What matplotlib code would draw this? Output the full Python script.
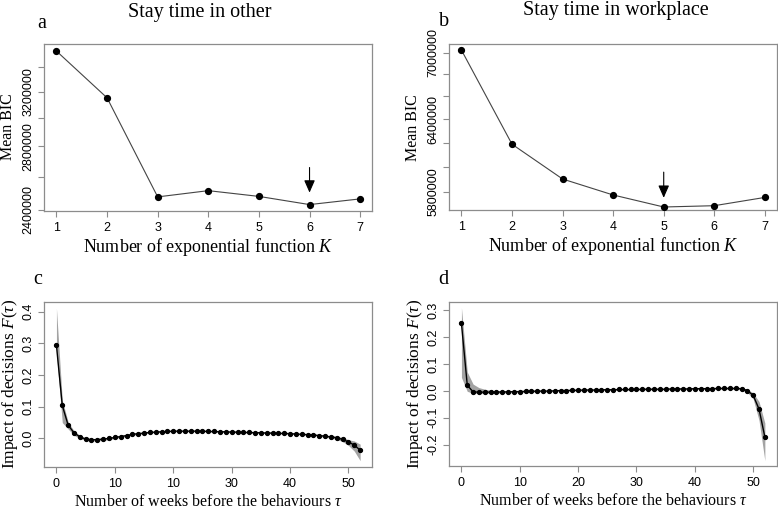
import matplotlib
matplotlib.use("Agg")
import matplotlib.pyplot as plt
from matplotlib.ticker import FixedLocator, NullLocator, FixedFormatter
import numpy as np

plt.rcParams['mathtext.fontset'] = 'custom'
plt.rcParams['mathtext.rm'] = 'Liberation Serif'
plt.rcParams['mathtext.it'] = 'Liberation Serif:italic'

# ---------------- data ----------------
K = [1, 2, 3, 4, 5, 6, 7]
bic_other = [3534000, 3153000, 2476000, 2514000, 2479000, 2430000, 2464000]
bic_work = [7025000, 6186000, 5902000, 5776000, 5683000, 5693000, 5757000]
best_other = 6
best_work = 5

tau = list(range(53))
f_other = [0.293, 0.104, 0.042, 0.018, 0.005, -0.002, -0.004, -0.004, -0.002, 0.000,
           0.003, 0.006, 0.009, 0.013, 0.015, 0.017, 0.019, 0.020, 0.021, 0.022,
           0.023, 0.023, 0.023, 0.023, 0.023, 0.023, 0.022, 0.022, 0.021, 0.021,
           0.020, 0.020, 0.019, 0.019, 0.018, 0.018, 0.017, 0.017, 0.016, 0.016,
           0.015, 0.014, 0.013, 0.012, 0.011, 0.009, 0.007, 0.005, 0.002, -0.003,
           -0.011, -0.021, -0.037]
f_other_lo = [0.270, 0.050, 0.030, 0.010, 0.000, -0.006, -0.008, -0.008, -0.006, -0.004,
              0.000, 0.003, 0.006, 0.010, 0.012, 0.015, 0.017, 0.018, 0.019, 0.020,
              0.021, 0.021, 0.021, 0.021, 0.021, 0.021, 0.020, 0.020, 0.019, 0.019,
              0.018, 0.018, 0.017, 0.017, 0.016, 0.016, 0.015, 0.015, 0.014, 0.014,
              0.013, 0.012, 0.011, 0.010, 0.009, 0.006, 0.004, 0.001, -0.003, -0.010,
              -0.022, -0.040, -0.070]
f_other_hi = [0.410, 0.120, 0.052, 0.024, 0.010, 0.002, 0.000, 0.000, 0.002, 0.004,
              0.006, 0.009, 0.012, 0.016, 0.018, 0.019, 0.021, 0.022, 0.023, 0.024,
              0.025, 0.025, 0.025, 0.025, 0.025, 0.025, 0.024, 0.024, 0.023, 0.023,
              0.022, 0.022, 0.021, 0.021, 0.020, 0.020, 0.019, 0.019, 0.018, 0.018,
              0.017, 0.016, 0.015, 0.014, 0.013, 0.012, 0.010, 0.009, 0.007, 0.003,
              -0.004, -0.008, -0.018]

f_work = [0.251, 0.021, -0.004, -0.005, -0.005, -0.005, -0.005, -0.004, -0.004, -0.003,
          -0.003, -0.002, -0.002, -0.001, -0.001, -0.001, 0.000, 0.001, 0.001, 0.002,
          0.002, 0.003, 0.003, 0.003, 0.004, 0.004, 0.004, 0.005, 0.005, 0.005,
          0.005, 0.006, 0.006, 0.006, 0.006, 0.006, 0.007, 0.007, 0.007, 0.007,
          0.008, 0.008, 0.008, 0.008, 0.009, 0.009, 0.009, 0.009, 0.008, 0.001,
          -0.017, -0.068, -0.172]
f_work_lo = [0.050, -0.002, -0.009, -0.010, -0.010, -0.009, -0.009, -0.008, -0.008, -0.007,
             -0.007, -0.006, -0.005, -0.004, -0.004, -0.004, -0.003, -0.002, -0.002, -0.001,
             -0.001, 0.000, 0.000, 0.000, 0.001, 0.001, 0.001, 0.002, 0.002, 0.002,
             0.002, 0.003, 0.003, 0.003, 0.003, 0.003, 0.004, 0.004, 0.004, 0.004,
             0.005, 0.005, 0.005, 0.005, 0.006, 0.006, 0.005, 0.005, 0.004, -0.006,
             -0.030, -0.110, -0.260]
f_work_hi = [0.310, 0.070, 0.025, 0.012, 0.006, 0.002, 0.000, 0.000, 0.000, 0.001,
             0.001, 0.002, 0.002, 0.002, 0.002, 0.002, 0.003, 0.004, 0.004, 0.005,
             0.005, 0.006, 0.006, 0.006, 0.007, 0.007, 0.007, 0.008, 0.008, 0.008,
             0.008, 0.009, 0.009, 0.009, 0.009, 0.009, 0.010, 0.010, 0.010, 0.010,
             0.011, 0.011, 0.011, 0.011, 0.012, 0.012, 0.013, 0.013, 0.012, 0.006,
             -0.008, -0.040, -0.120]

bic_ticks_other = [2400000, 2600000, 2800000, 3000000, 3200000, 3400000]
bic_labels_other = ['2400000', '', '2800000', '', '3200000', '']
bic_ticks_work = [5800000, 6000000, 6200000, 6400000, 6600000, 6800000, 7000000]
bic_labels_work = ['5800000', '', '', '6400000', '', '', '7000000']
f_ticks_other = [0.0, 0.1, 0.2, 0.3, 0.4]
f_labels_other = ['0.0', '0.1', '0.2', '0.3', '0.4']
f_ticks_work = [-0.2, -0.1, 0.0, 0.1, 0.2, 0.3]
f_labels_work = ['-0.2', '-0.1', '0.0', '0.1', '0.2', '0.3']
w_ticks = [0, 10, 20, 30, 40, 50]
w_labels_other = ['0', '10', '10', '30', '40', '50']
w_labels_work = ['0', '10', '20', '30', '40', '50']

titles = ['Stay time in other', 'Stay time in workplace']

# ---------------- layout ----------------
W, H = 778, 509
fig = plt.figure(figsize=(W / 100, H / 100), dpi=100)

def box(l, t, r, b):
    return [l / W, 1 - b / H, (r - l) / W, (b - t) / H]

ax_a = fig.add_axes(box(44.3, 43.5, 372.3, 210.7))
ax_b = fig.add_axes(box(449.3, 44.3, 777.0, 210.0))
ax_c = fig.add_axes(box(44.3, 301.7, 372.3, 467.0))
ax_d = fig.add_axes(box(449.3, 301.7, 777.0, 466.0))

SPINE = '#8c8c8c'
TICKFONT = 'Liberation Sans'
SERIF = 'Liberation Serif'

def style(ax):
    for s in ax.spines.values():
        s.set_color(SPINE)
        s.set_linewidth(0.9)
    ax.tick_params(axis='both', direction='out', length=4.5, width=0.8,
                   color=SPINE, labelsize=9, pad=3.5)
    ax.tick_params(axis='y', pad=2.5)
    for lab in ax.get_xticklabels() + ax.get_yticklabels():
        lab.set_fontfamily(TICKFONT)

def bic_panel(ax, vals, best, yticks, ylabels, ylim, arrow_from, arrow_to):
    ax.plot(K, vals, color='#444444', lw=0.8, marker='o', ms=4.2,
            mfc='black', mec='black', zorder=3)
    ax.set_yscale('log')
    ax.set_ylim(*ylim)
    ax.set_xlim(0.76, 7.24)
    ax.yaxis.set_major_locator(FixedLocator(yticks))
    ax.yaxis.set_major_formatter(FixedFormatter(ylabels))
    ax.yaxis.set_minor_locator(NullLocator())
    ax.set_xticks(K)
    ax.set_xticklabels([str(k) for k in K])
    style(ax)
    for lab in ax.get_yticklabels():
        lab.set_rotation(90)
        lab.set_va('center')
    ax.annotate('', xy=(best, arrow_to), xytext=(best, arrow_from),
                arrowprops=dict(arrowstyle='-|>,head_length=0.75,head_width=0.33',
                                color='black', lw=0.8, shrinkA=0, shrinkB=0))
    ax.set_xlabel(r'Number of exponential function $K$', fontfamily=SERIF,
                  fontsize=13, labelpad=1.5)
    ax.set_ylabel('Mean BIC', fontfamily=SERIF, fontsize=11.5, labelpad=4.5)

bic_panel(ax_a, bic_other, best_other, bic_ticks_other, bic_labels_other,
          (2394000, 3600000), 2660000, 2502000)
bic_panel(ax_b, bic_work, best_work, bic_ticks_work, bic_labels_work,
          (5660000, 7080000), 5957000, 5754000)

def f_panel(ax, vals, lo, hi, yticks, ylabels, ylim, xlabels):
    ax.fill_between(tau, lo, hi, color='#a3a3a3', lw=0, zorder=1)
    ax.plot(tau, vals, color='black', lw=1.0, marker='o', ms=2.8,
            mfc='black', mec='black', zorder=3)
    ax.set_xlim(-2.08, 54.08)
    ax.set_ylim(*ylim)
    ax.set_yticks(yticks)
    ax.set_yticklabels(ylabels)
    ax.set_xticks(w_ticks)
    ax.set_xticklabels(xlabels)
    style(ax)
    for lab in ax.get_yticklabels():
        lab.set_rotation(90)
        lab.set_va('center')
    ax.set_xlabel(r'Number of weeks before the behaviours $\tau$', fontfamily=SERIF,
                  fontsize=11.5, labelpad=3)
    ax.set_ylabel(r'Impact of decisions $F$($\tau$)', fontfamily=SERIF,
                  fontsize=12.5, labelpad=2)

f_panel(ax_c, f_other, f_other_lo, f_other_hi, f_ticks_other, f_labels_other,
        (-0.09, 0.431), w_labels_other)
f_panel(ax_d, f_work, f_work_lo, f_work_hi, f_ticks_work, f_labels_work,
        (-0.28, 0.332), w_labels_work)

# titles and panel letters
fig.text(200 / W, 1 - 12 / H, titles[0], fontfamily=SERIF, fontsize=14.5,
         ha='center', va='center')
fig.text(615.7 / W, 1 - 11 / H, titles[1], fontfamily=SERIF, fontsize=14.5,
         ha='center', va='center')
for letter, x, y in [('a', 41.7, 24), ('b', 444, 22), ('c', 38, 280), ('d', 443, 280)]:
    fig.text(x / W, 1 - y / H, letter, fontfamily=SERIF, fontsize=14.5,
             ha='center', va='center')

fig.savefig('out.png', dpi=100)
